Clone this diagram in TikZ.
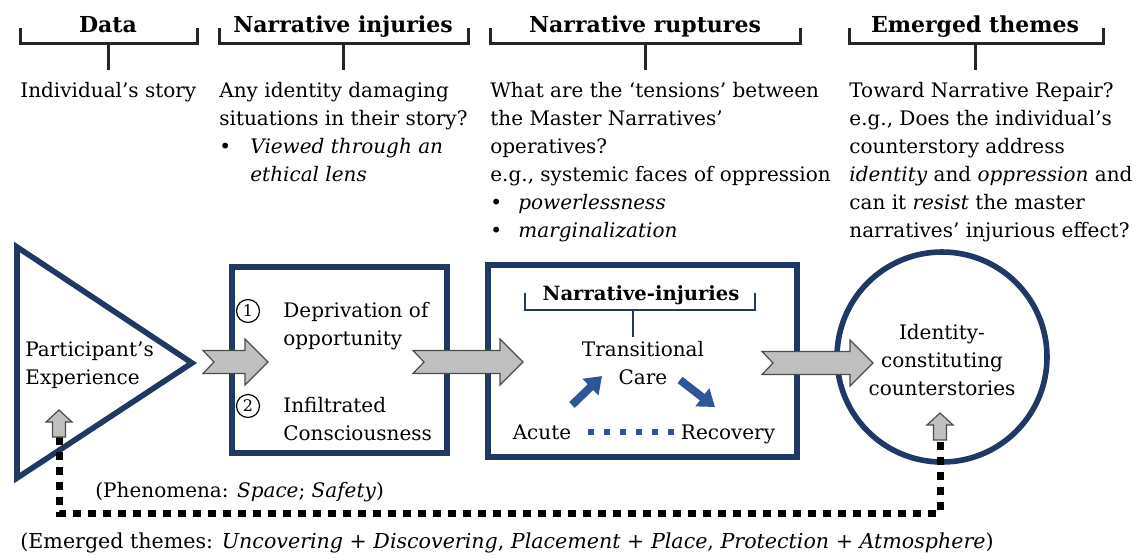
\documentclass[tikz,border=0pt]{standalone}
\usepackage{fontspec}
\usepackage{tikz}
\usetikzlibrary{arrows.meta,calc}
\setmainfont{DejaVu Serif}

\definecolor{navy}{HTML}{203864}
\definecolor{midblue}{HTML}{2F5597}
\definecolor{arrgray}{HTML}{BFBFBF}

\tikzset{
  txt/.style={font=\fontsize{10}{14}\selectfont, inner sep=0pt, align=left, anchor=base west},
  head/.style={font=\fontsize{11}{13}\selectfont\bfseries, inner sep=0pt, anchor=base},
  brace/.style={line width=1.5pt, black!85},
  navyline/.style={draw=navy, line width=2.8pt},
  fatarr/.style={fill=arrgray, draw=black!70, line width=0.6pt, line join=miter},
  dotline/.style={line width=3.5pt, dash pattern=on 4pt off 3.5pt, black},
  numcirc/.style={circle, draw, line width=0.6pt, minimum size=11.5pt, inner sep=0pt, font=\fontsize{8}{8}\selectfont}
}

% block arrow pointing right, from #1 to #2
\newcommand{\fatarrow}[2]{%
  \filldraw[fatarr] let \p1=(#1), \p2=(#2) in
    (\x1,\y1+5.75pt) -- (\x2-11.5pt,\y1+5.75pt) -- (\x2-11.5pt,\y1+11.5pt) -- (\x2,\y1)
    -- (\x2-11.5pt,\y1-11.5pt) -- (\x2-11.5pt,\y1-5.75pt) -- (\x1,\y1-5.75pt)
    -- (\x1+5.5pt,\y1) -- cycle;}
% small block arrow pointing up, from #1 (bottom) to #2 (top)
\newcommand{\upblock}[2]{%
  \filldraw[fatarr] let \p1=(#1), \p2=(#2) in
    (\x1-3.25pt,\y1) -- (\x1-3.25pt,\y2-6pt) -- (\x1-6.5pt,\y2-6pt) -- (\x1,\y2)
    -- (\x1+6.5pt,\y2-6pt) -- (\x1+3.25pt,\y2-6pt) -- (\x1+3.25pt,\y1) -- cycle;}

\begin{document}
\begin{tikzpicture}[x=0.5pt,y=-0.5pt]
    \useasboundingbox (0,0) rectangle (1140,558);

    % column headers with brackets
    \foreach \l/\r/\c/\name in {20/197/108/Data, 219/468/343/Narrative injuries,
                                490/800/645/Narrative ruptures, 849/1103/975/Emerged themes} {
        \node[head] at (\c,32) {\name};
        \draw[brace] (\l,28) -- (\l,43) -- (\r,43) -- (\r,28);
        \draw[brace] (\c,43) -- (\c,70);
    }

    % base of a multi-line node is its last line
    \node[txt] (data) at (20,97) {Individual’s story};
    \node[txt] (injq) at (219,181) {Any identity damaging\\situations in their story?\\
        \makebox[15.5pt][l]{•}\textit{Viewed through an}\\\hspace*{15.5pt}\textit{ethical lens}};
    \node[txt] (rupq) at (490,237) {What are the ‘tensions’ between\\the Master Narratives’\\operatives?\\
        e.g., systemic faces of oppression\\\makebox[14pt][l]{•}\textit{powerlessness}\\
        \makebox[14pt][l]{•}\textit{marginalization}};
    \node[txt] (repq) at (849,237) {Toward Narrative Repair?\\e.g., Does the individual’s\\
        counterstory address\\\textit{identity} and \textit{oppression} and\\
        can it \textit{resist} the master\\narratives’ injurious effect?};

    % participant's experience
    \draw[navyline, line join=miter] (17,247) -- (192,363) -- (17,478) -- cycle;
    \coordinate (apex) at (192,363);
    \node[txt] (part) at (25,384) {Participant’s\\Experience};

    % injuries box
    \node[navyline, minimum width=107.5pt, minimum height=93pt] (box1) at (339.5,360) {};
    \node[numcirc] (n1) at (248,311) {1};
    \node[txt] (dep) at (283,345) {Deprivation of\\opportunity};
    \node[numcirc] (n2) at (248,406) {2};
    \node[txt] (inf) at (283,440) {Infiltrated\\Consciousness};

    % ruptures box
    \node[navyline, minimum width=154.5pt, minimum height=96pt] (box2) at (642.5,361) {};
    \node[head, font=\fontsize{9.8}{12}\selectfont\bfseries] (ninj) at (641,300) {Narrative-injuries};
    \draw[navy, line width=1pt] (525,293) -- (525,310) -- (755,310) -- (755,293);
    \node[txt, anchor=base, align=center] (trans) at (643,384) {Transitional\\Care};
    \draw[navy, line width=1pt] (633,310) -- (633,337);
    \node[txt, anchor=base] (acute) at (542,439) {Acute};
    \node[txt, anchor=base] (recov) at (728,439) {Recovery};
    \coordinate (up1) at (572,405);
    \coordinate (up2) at (602,376);
    \coordinate (dn1) at (680,380);
    \coordinate (dn2) at (715,407);
    \draw[midblue, line width=4pt, -{Triangle[length=8pt,width=11pt]}] (up1) -- (up2);
    \draw[midblue, line width=4pt, -{Triangle[length=8pt,width=11pt]}] (dn1) -- (dn2);
    \draw[midblue, line width=3pt, dash pattern=on 3pt off 5pt]
        ([xshift=8pt]acute.east |- 0,432) -- ([xshift=-2pt]recov.west |- 0,432);

    % counterstories
    \node[navyline, circle, minimum size=105pt, inner sep=0pt] (circ) at (942,357) {};
    \node[txt, anchor=center, align=center] (ctext) at (942,360) {Identity-\\constituting\\counterstories};

    % feedback loop
    \coordinate (lb) at (59,437);
    \coordinate (lt) at (59,410);
    \coordinate (rb) at (940,440);
    \coordinate (rt) at (940,413);
    \coordinate (loop) at (0,513);
    \draw[dotline] (lb) -- (lb |- loop) -- (rb |- loop) -- (rb);
    \upblock{lb}{lt}
    \upblock{rb}{rt}

    % flow arrows
    \coordinate (a1) at (203,362);
    \coordinate (a2) at (268,362);
    \coordinate (b1) at (413,362);
    \coordinate (b2) at (523,362);
    \coordinate (c1) at (762,363);
    \coordinate (c2) at (873,363);
    \fatarrow{a1}{a2}
    \fatarrow{b1}{b2}
    \fatarrow{c1}{c2}

    \node[txt] (phen) at (95,497) {(Phenomena: \textit{Space}; \textit{Safety})};
    \node[txt, font=\fontsize{10.3}{14}\selectfont] (emth) at (20,548) {(Emerged themes: \textit{Uncovering + Discovering}, \textit{Placement + Place}, \textit{Protection + Atmosphere})};
\end{tikzpicture}
\end{document}
